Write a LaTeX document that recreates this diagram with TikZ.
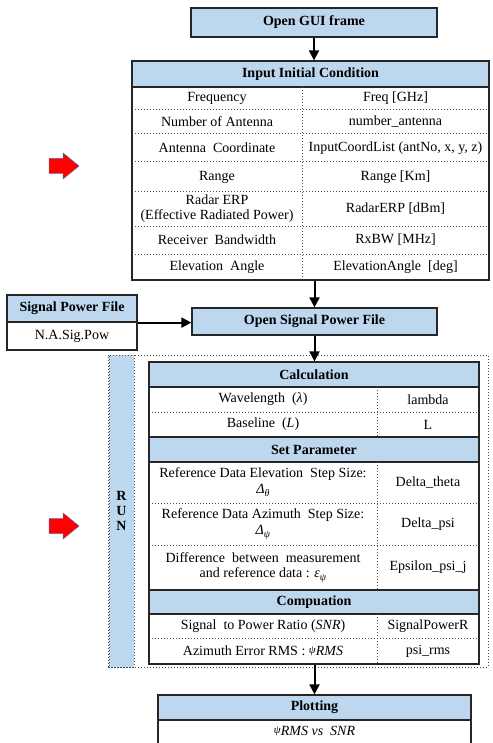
\documentclass[tikz,border=0pt]{standalone}
\usepackage{fontspec}
\setmainfont{Liberation Serif}
\usetikzlibrary{arrows.meta}
\definecolor{hdrblue}{HTML}{BDD7EE}
\definecolor{arrowline}{HTML}{5A6B9A}
\newcommand{\txtsize}{\fontsize{14}{15}\selectfont}
\newcommand{\subit}[1]{\raisebox{-3pt}{\fontsize{10}{10}\selectfont\textit{#1}}}

\tikzset{
  hdr/.style={draw=black!85, line width=1.2pt, fill=hdrblue, font=\txtsize\bfseries, inner sep=0pt},
  tabframe/.style={draw=black!85, line width=1.8pt, inner sep=0pt},
  cellbox/.style={draw=black!85, line width=1.2pt, fill=white, inner sep=0pt},
  cell/.style={inner sep=0pt, align=center},
  sep/.style={dotted, line width=1pt, black!70},
  arr/.style={-{Triangle[length=10pt,width=10pt]}, line width=2pt},
}

\begin{document}
\begin{tikzpicture}[x=1pt, y=-1pt, font=\txtsize]
\useasboundingbox (0,0) rectangle (492,743);
%\draw [lightgray](0,0) grid[step=50] (492,743);

% open gui
\node [hdr, minimum width=246, minimum height=29] (gui) at (314,22.5) {Open GUI frame};

% input initial condition
\node [hdr, minimum width=357, minimum height=26] (initHdr) at (310.5,74) {Input Initial Condition};
\node [cell] (frL) at (217,98.5) {Frequency};
\node [cell] (frR) at (395.5,98.5) {Freq [GHz]};
\node [cell] (antL) at (217,122) {Number of Antenna};
\node [cell] (antR) at (395.5,122) {number\_antenna};
\node [cell] (crdL) at (217,148) {Antenna~ Coordinate};
\node [cell] (crdR) at (395.5,148) {InputCoordList (antNo, x, y, z)};
\node [cell] (rngL) at (217,177) {Range};
\node [cell] (rngR) at (395.5,177) {Range [Km]};
\node [cell] (erpL) at (217,209) {Radar ERP\\(Effective Radiated Power)};
\node [cell] (erpR) at (395.5,209) {RadarERP [dBm]};
\node [cell] (bwL) at (217,240) {Receiver~ Bandwidth};
\node [cell] (bwR) at (395.5,240) {RxBW [MHz]};
\node [cell] (elL) at (217,267) {Elevation~ Angle};
\node [cell] (elR) at (395.5,267) {ElevationAngle~~[deg]};

\draw [sep] (132,110) -- (489,110);
\draw [sep] (132,134) -- (489,134);
\draw [sep] (132,162) -- (489,162);
\draw [sep] (132,192) -- (489,192);
\draw [sep] (132,226) -- (489,226);
\draw [sep] (132,254) -- (489,254);
\draw [sep] (302,87) -- (302,280);
\node [tabframe, minimum width=357, minimum height=219] (initTab) at (310.5,170.5) {};

% signal power file
\node [hdr, minimum width=130, minimum height=27] (sigHdr) at (72,308.5) {Signal Power File};
\node [cellbox, minimum width=130, minimum height=28] (sigName) at (72,336) {N.A.Sig.Pow};
\node [hdr, minimum width=245, minimum height=27] (sigOpen) at (314.5,321.5) {Open Signal Power File};

% run block
\node [draw=black!70, dotted, line width=1pt, minimum width=380, minimum height=312] (runBox) at (298,511) {};
\node [fill=hdrblue, draw=black!70, dotted, line width=1pt, minimum width=25, minimum height=312, font=\txtsize\bfseries, align=center] (runStrip) at (121.5,511) {R\\U\\N};

\node [hdr, minimum width=330, minimum height=25] (calcHdr) at (314,374.5) {Calculation};
\node [cell] (wlL) at (263,399.5) {Wavelength~~(\textit{λ})};
\node [cell] (wlR) at (428,399.5) {lambda};
\node [cell] (blL) at (263,424.5) {Baseline~~(\textit{L})};
\node [cell] (blR) at (428,424.5) {L};
\node [hdr, minimum width=330, minimum height=25] (setHdr) at (314,449.5) {Set Parameter};
\node [cell] (dthL) at (263,482.5) {Reference Data Elevation~~Step Size:\\[1pt]\textit{Δ}\subit{θ}};
\node [cell] (dthR) at (428,482.5) {Delta\_theta};
\node [cell] (dpsL) at (263,524) {Reference Data Azimuth~~Step Size:\\[1pt]\textit{Δ}\subit{ψ}};
\node [cell] (dpsR) at (428,524) {Delta\_psi};
\node [cell] (epsL) at (263,567.5) {Difference~~between~~measurement\\and reference data : \textit{ε}\subit{ψ}};
\node [cell] (epsR) at (428,567.5) {Epsilon\_psi\_j};
\node [hdr, minimum width=330, minimum height=24] (compHdr) at (314,602) {Compuation};
\node [cell] (snrL) at (263,626) {Signal~~to Power Ratio (\textit{SNR})};
\node [cell] (snrR) at (428,626) {SignalPowerR};
\node [cell] (rmsL) at (263,651) {Azimuth Error RMS : \raisebox{2pt}{\fontsize{11}{11}\selectfont\textit{ψ}}\textit{RMS}};
\node [cell] (rmsR) at (428,651) {psi\_rms};

\draw [sep] (149,412) -- (479,412);
\draw [sep] (149,503) -- (479,503);
\draw [sep] (149,545) -- (479,545);
\draw [sep] (149,638) -- (479,638);
\draw [sep] (377,387) -- (377,437);
\draw [sep] (377,462) -- (377,590);
\draw [sep] (377,614) -- (377,664);
\node [tabframe, minimum width=330, minimum height=302] (calcTab) at (314,513) {};

% plotting
\node [hdr, minimum width=313, minimum height=25] (plotHdr) at (314.5,707.5) {Plotting};
\node [cellbox, minimum width=313, minimum height=28, anchor=north] (plotBody) at (314.5,720) {};
\node [cell] (plotTxt) at (314.5,731) {\raisebox{2pt}{\fontsize{11}{11}\selectfont\textit{ψ}}\textit{RMS vs~~SNR}};

% red arrows
\draw [arrowline, fill=red, line width=0.5pt] (49,158.5) -- (63,158.5) -- (63,153) -- (79,166) -- (63,179) -- (63,173.5) -- (49,173.5) -- cycle;
\draw [arrowline, fill=red, line width=0.5pt] (49,518.5) -- (63,518.5) -- (63,513) -- (79,526) -- (63,539) -- (63,533.5) -- (49,533.5) -- cycle;

% connectors
\draw [arr] (gui) -- (gui |- initHdr.north);
\draw [arr] (sigOpen |- initTab.south) -- (sigOpen);
\draw [arr] (sigHdr.south east) -- (sigOpen.west |- sigHdr.south east);
\draw [arr] (sigOpen) -- (sigOpen |- calcHdr.north);
\draw [arr] (plotHdr |- calcTab.south) -- (plotHdr);
\end{tikzpicture}
\end{document}
